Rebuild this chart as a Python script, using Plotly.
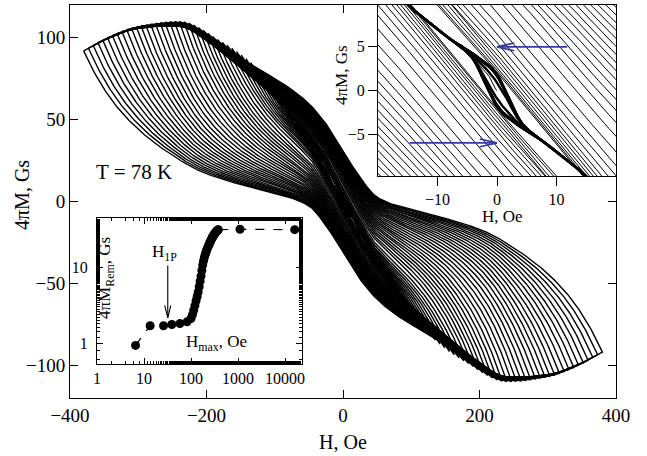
import numpy as np
import plotly.graph_objects as go

# ---------------- data ----------------
# limiting increasing-field branch of the loop bundle (H, Oe ; 4piM, Gs)
LIM_H = [-380, -340, -300, -260, -210, -160, -120, -80, -50, -25, 0, 25, 50, 80, 136, 180, 240, 300, 340, 380]
LIM_M = [27, 24, 21, 17, 11, 7, 4, 0.5, -4.5, -16.2, -32.5, -48.8, -61, -71, -85, -98, -110, -107, -101, -92]

# loop tips: 4piM reached at H = -Hmax (upper envelope)
TIP_H = [0, 7, 13, 28, 39, 58, 82, 100, 136, 180, 240, 300, 340, 380]
TIP_M = [0, 5, 8.5, 17, 26, 40, 56, 68, 85, 98, 110, 107, 101, 92]

# centre line of the small loops, seen as the S-shaped band of the upper inset
SB_H = [0, 2, 4, 6, 8.5, 11.5, 14.8, 20, 28, 40, 60, 82]
SB_M = [0, -2.0, -3.9, -5.0, -6.2, -7.9, -9.7, -15.0, -21.2, -30.0, -42.0, -55.0]

# maximum fields of the loops and their remanence (lower inset, log-log)
HMAX = [6.6, 13.5, 26, 39, 58, 82,
        100, 107, 114, 121, 128, 135, 142, 149, 156, 163, 170, 177, 184, 191,
        198, 205, 212, 219, 226, 233, 240, 247, 254, 261, 268, 275, 282, 289,
        296, 303, 310, 317, 324, 331, 338, 345, 352, 359, 366, 373, 380,
        1100, 16000]
MREM = [0.93, 1.69, 1.69, 1.75, 1.8, 1.9,
        2.1, 2.35, 2.7, 3.1, 3.6, 4.1, 4.7, 5.5, 6.5, 7.6, 9.0, 10.6, 12.0, 13.2,
        14.3, 15.3, 16.3, 17.2, 18.0, 18.8, 19.6, 20.4, 21.2, 22.0, 22.8, 23.6, 24.3, 25.0,
        25.6, 26.2, 26.8, 27.3, 27.8, 28.3, 28.8, 29.3, 29.7, 30.1, 30.4, 30.7, 31.0,
        31.4, 31.0]

# virgin curve seen in the upper inset
VIRGIN_H = [0, -0.2, -1.3, -2.4, -3.6, -4.8, -6]
VIRGIN_M = [0, 0.1, 1.6, 2.5, 3.4, 4.4, 5.3]

# annotation geometry
ARROW_LEFT = dict(x0=11.8, x1=0.0, y=5.0)
ARROW_RIGHT = dict(x0=-14.7, x1=0.0, y=-6.0)
H1P_ARROW = dict(x=32, y_top=10.5, y_tip=2.15)


# ---------------- helpers ----------------
def pchip(xp, yp, x):
    xp = np.asarray(xp, float); yp = np.asarray(yp, float); x = np.asarray(x, float)
    h = np.diff(xp); d = np.diff(yp) / h
    m = np.zeros_like(yp)
    for k in range(1, len(xp) - 1):
        if d[k - 1] * d[k] > 0:
            w1 = 2 * h[k] + h[k - 1]; w2 = h[k] + 2 * h[k - 1]
            m[k] = (w1 + w2) / (w1 / d[k - 1] + w2 / d[k])
    m[0] = d[0]; m[-1] = d[-1]
    idx = np.clip(np.searchsorted(xp, x) - 1, 0, len(xp) - 2)
    t = (x - xp[idx]) / h[idx]
    h00 = 2 * t**3 - 3 * t**2 + 1; h10 = t**3 - 2 * t**2 + t
    h01 = -2 * t**3 + 3 * t**2; h11 = t**3 - t**2
    return h00 * yp[idx] + h10 * h[idx] * m[idx] + h01 * yp[idx + 1] + h11 * h[idx] * m[idx + 1]


def lim(H):
    return pchip(LIM_H, LIM_M, H)


def tip(h):
    return float(pchip(TIP_H, TIP_M, [h])[0])


def sband(H):
    H = np.asarray(H, float)
    return np.sign(H) * pchip(SB_H, SB_M, np.abs(H))


def e1(u, tau):
    a = np.exp(-1.0 / tau)
    return (np.exp(-u / tau) - a) / (1 - a)


def branch_up(h, rem, n=500):
    H = np.linspace(-h, h, n)
    if h <= SB_H[-1]:
        # small loops: reversible S-band with a hysteretic lens around H = 0
        return H, sband(H) - rem * np.exp(-(H / 3.0) ** 2)
    u = (H + h) / (2 * h)
    w = min(75.0, 0.45 * h)
    tau = w / (2 * h)
    c0 = tip(h) - float(lim([-h])[0])
    c1 = -tip(h) - float(lim([h])[0])
    target = -rem - float(lim([0.0])[0])
    E = float(e1(0.5, tau))
    cm = (target - (c0 + c1) * E) / (1 - 2 * E)
    c = cm + (c0 - cm) * e1(u, tau) + (c1 - cm) * e1(1 - u, tau)
    return H, lim(H) + c


big_x, big_y, small_x, small_y = [], [], [], []
for h, r in zip(HMAX, MREM):
    if h > 390:
        continue
    H, M = branch_up(h, r)
    tx, ty = (small_x, small_y) if h <= SB_H[-1] else (big_x, big_y)
    # increasing branch then decreasing branch (point symmetric)
    tx += list(H) + list(-H) + [None]
    ty += list(M) + list(-M) + [None]

# ---------------- layout geometry ----------------
W, HGT = 647, 456
L, R, T, B = 70, 31, 5, 58
PW, PH = W - L - R, HGT - T - B


def px2paper(px, py):
    return (px - L) / PW, (HGT - B - py) / PH


ins1_x = [px2paper(378, 0)[0], 1.0]
ins1_y = [px2paper(0, 176)[1], 1.0]
ins2_x = [px2paper(97, 0)[0], px2paper(302, 0)[0]]
ins2_y = [px2paper(0, 364)[1], px2paper(0, 218)[1]]

FONT = "Liberation Serif"
BLUE = "#363a9c"

fig = go.Figure()


def add_lines(x, y, xa, ya, width, color="black"):
    fig.add_trace(go.Scatter(x=x, y=y, mode="lines", line=dict(color=color, width=width),
                             xaxis=xa, yaxis=ya, hoverinfo="skip", showlegend=False))


add_lines(big_x, big_y, "x", "y", 1.4)
add_lines(small_x, small_y, "x", "y", 2.2)
# upper inset
add_lines(big_x, big_y, "x2", "y2", 1.0)
add_lines(small_x, small_y, "x2", "y2", 2.4)
add_lines(VIRGIN_H, VIRGIN_M, "x2", "y2", 1.0)
for a, sgn in ((ARROW_LEFT, 1), (ARROW_RIGHT, -1)):
    add_lines([a["x0"], a["x1"], None, a["x1"] + sgn * 2.9, a["x1"], a["x1"] + sgn * 2.9],
              [a["y"], a["y"], None, a["y"] + 0.45, a["y"], a["y"] - 0.45], "x2", "y2", 1.6, BLUE)
# lower inset
fig.add_trace(go.Scatter(x=HMAX, y=MREM, mode="lines+markers",
                         line=dict(color="black", width=1.2, dash="dash"),
                         marker=dict(color="black", size=9),
                         xaxis="x3", yaxis="y3", hoverinfo="skip", showlegend=False))
a = H1P_ARROW
add_lines([a["x"], a["x"], None, a["x"] * 0.86, a["x"], a["x"] * 1.16],
          [a["y_top"], a["y_tip"], None, a["y_tip"] * 1.45, a["y_tip"], a["y_tip"] * 1.45],
          "x3", "y3", 1.1)

axis_common = dict(showline=True, linecolor="black", linewidth=1, showgrid=False, zeroline=False,
                   tickcolor="black", tickfont=dict(family=FONT, size=19, color="black"))
inset_common = dict(showline=True, linecolor="black", linewidth=1, showgrid=False, zeroline=False,
                    tickcolor="black", tickfont=dict(family=FONT, size=16, color="black"))

fig.update_layout(
    width=W, height=HGT, margin=dict(l=L, r=R, t=T, b=B),
    paper_bgcolor="white", plot_bgcolor="white",
    font=dict(family=FONT, color="black"),
    xaxis=dict(domain=[0, 1], range=[-400, 400], tickvals=[-400, -200, 0, 200, 400],
               ticktext=["\u2212400", "\u2212200", "0", "200", "400"],
               ticks="inside", ticklen=8, mirror="ticks", **axis_common),
    yaxis=dict(domain=[0, 1], range=[-120, 120], tickvals=[-100, -50, 0, 50, 100],
               ticktext=["\u2212100", "\u221250", "0", "50", "100"],
               ticks="inside", ticklen=8, mirror="ticks", **axis_common),
    xaxis2=dict(domain=ins1_x, range=[-20, 20], anchor="y2", tickvals=[-10, 0, 10],
                ticktext=["\u221210", "0", "10"], ticks="outside", ticklen=9, mirror=True,
                **inset_common),
    yaxis2=dict(domain=ins1_y, range=[-9.8, 9.8], anchor="x2", tickvals=[-5, 0, 5],
                ticktext=["\u22125", "0", "5"], ticks="outside", ticklen=9, mirror=True,
                **inset_common),
    xaxis3=dict(domain=ins2_x, type="log", range=[0, 4.36], anchor="y3",
                tickvals=[1, 10, 100, 1000, 10000], ticktext=["1", "10", "100", "1000", "10000"],
                ticks="inside", ticklen=6, mirror="allticks",
                minor=dict(ticks="inside", ticklen=3, tickcolor="black", showgrid=False),
                **inset_common),
    yaxis3=dict(domain=ins2_y, type="log", range=[-0.276, 1.645], anchor="x3",
                tickvals=[1, 10], ticktext=["1", "10"], ticklabelstandoff=5,
                ticks="inside", ticklen=6, mirror="allticks",
                minor=dict(ticks="inside", ticklen=3, tickcolor="black", showgrid=False),
                **inset_common),
)

ann = []


def paper_text(px, py, text, size, angle=0):
    x, y = px2paper(px, py)
    ann.append(dict(xref="paper", yref="paper", x=x, y=y, text=text, showarrow=False,
                    textangle=angle, xanchor="center", yanchor="middle",
                    font=dict(family=FONT, size=size, color="black")))


paper_text(343, 442, "H, Oe", 20)
paper_text(22, 195, "4\u03c0M, Gs", 20, -90)
paper_text(134, 172, "T = 78 K", 21)
paper_text(502, 217, "H, Oe", 17)
paper_text(341, 75, "4\u03c0M, Gs", 17, -90)
paper_text(164, 253, "H<sub>1P</sub>", 17)
paper_text(216, 343, "H<sub>max</sub>, Oe", 17)
paper_text(106, 278, "4\u03c0M<sub>Rem</sub>, Gs", 17, -90)
fig.update_layout(annotations=ann)

fig.write_html("out.html")
